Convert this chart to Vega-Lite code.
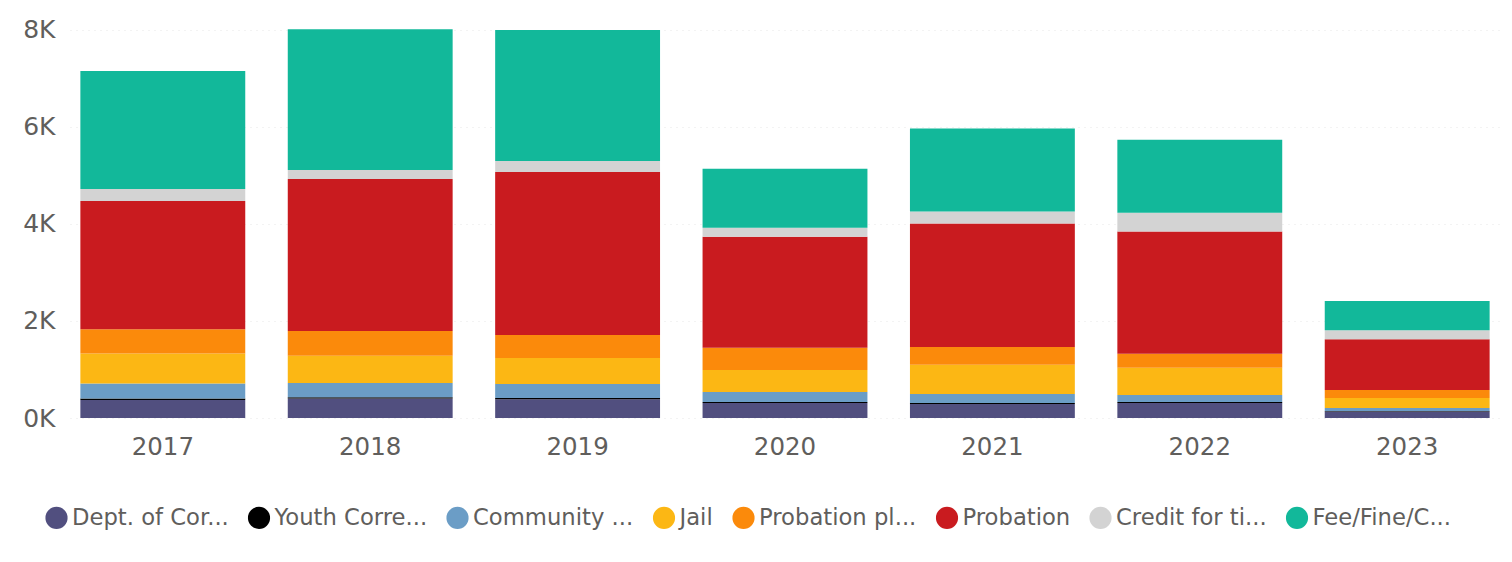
{
  "$schema": "https://vega.github.io/schema/vega-lite/v6.json",
  "width": 1430,
  "height": 398,
  "autosize": "none",
  "padding": {"left": 70, "top": 20, "right": 12, "bottom": 144},
  "background": "white",
  "config": {
    "view": {"stroke": null},
    "font": "DejaVu Sans"
  },
  "data": {
    "values": [
      {"year": "2017", "type": "Dept. of Cor...", "value": 370},
      {"year": "2017", "type": "Youth Corre...", "value": 30},
      {"year": "2017", "type": "Community ...", "value": 310},
      {"year": "2017", "type": "Jail", "value": 620},
      {"year": "2017", "type": "Probation pl...", "value": 500},
      {"year": "2017", "type": "Probation", "value": 2640},
      {"year": "2017", "type": "Credit for ti...", "value": 250},
      {"year": "2017", "type": "Fee/Fine/C...", "value": 2430},
      {"year": "2018", "type": "Dept. of Cor...", "value": 400},
      {"year": "2018", "type": "Youth Corre...", "value": 30},
      {"year": "2018", "type": "Community ...", "value": 290},
      {"year": "2018", "type": "Jail", "value": 560},
      {"year": "2018", "type": "Probation pl...", "value": 515},
      {"year": "2018", "type": "Probation", "value": 3130},
      {"year": "2018", "type": "Credit for ti...", "value": 185},
      {"year": "2018", "type": "Fee/Fine/C...", "value": 2900},
      {"year": "2019", "type": "Dept. of Cor...", "value": 385},
      {"year": "2019", "type": "Youth Corre...", "value": 25},
      {"year": "2019", "type": "Community ...", "value": 290},
      {"year": "2019", "type": "Jail", "value": 535},
      {"year": "2019", "type": "Probation pl...", "value": 475},
      {"year": "2019", "type": "Probation", "value": 3360},
      {"year": "2019", "type": "Credit for ti...", "value": 225},
      {"year": "2019", "type": "Fee/Fine/C...", "value": 2700},
      {"year": "2020", "type": "Dept. of Cor...", "value": 310},
      {"year": "2020", "type": "Youth Corre...", "value": 20},
      {"year": "2020", "type": "Community ...", "value": 205},
      {"year": "2020", "type": "Jail", "value": 455},
      {"year": "2020", "type": "Probation pl...", "value": 455},
      {"year": "2020", "type": "Probation", "value": 2290},
      {"year": "2020", "type": "Credit for ti...", "value": 185},
      {"year": "2020", "type": "Fee/Fine/C...", "value": 1215},
      {"year": "2021", "type": "Dept. of Cor...", "value": 290},
      {"year": "2021", "type": "Youth Corre...", "value": 20},
      {"year": "2021", "type": "Community ...", "value": 185},
      {"year": "2021", "type": "Jail", "value": 600},
      {"year": "2021", "type": "Probation pl...", "value": 370},
      {"year": "2021", "type": "Probation", "value": 2540},
      {"year": "2021", "type": "Credit for ti...", "value": 250},
      {"year": "2021", "type": "Fee/Fine/C...", "value": 1710},
      {"year": "2022", "type": "Dept. of Cor...", "value": 310},
      {"year": "2022", "type": "Youth Corre...", "value": 20},
      {"year": "2022", "type": "Community ...", "value": 145},
      {"year": "2022", "type": "Jail", "value": 560},
      {"year": "2022", "type": "Probation pl...", "value": 290},
      {"year": "2022", "type": "Probation", "value": 2515},
      {"year": "2022", "type": "Credit for ti...", "value": 390},
      {"year": "2022", "type": "Fee/Fine/C...", "value": 1505},
      {"year": "2023", "type": "Dept. of Cor...", "value": 135},
      {"year": "2023", "type": "Youth Corre...", "value": 10},
      {"year": "2023", "type": "Community ...", "value": 60},
      {"year": "2023", "type": "Jail", "value": 205},
      {"year": "2023", "type": "Probation pl...", "value": 165},
      {"year": "2023", "type": "Probation", "value": 1050},
      {"year": "2023", "type": "Credit for ti...", "value": 185},
      {"year": "2023", "type": "Fee/Fine/C...", "value": 600}
    ]
  },
  "transform": [
    {"calculate": "indexof(['Dept. of Cor...', 'Youth Corre...', 'Community ...', 'Jail', 'Probation pl...', 'Probation', 'Credit for ti...', 'Fee/Fine/C...'], datum.type)", "as": "stackOrder"}
  ],
  "mark": {"type": "bar"},
  "encoding": {
    "x": {
      "field": "year",
      "type": "ordinal",
      "scale": {"paddingInner": 0.205, "paddingOuter": 0.05},
      "axis": {
        "title": null,
        "labelAngle": 0,
        "domain": false,
        "ticks": false,
        "labelFontSize": 24.5,
        "labelColor": "#605E5C",
        "labelPadding": 17
      }
    },
    "y": {
      "field": "value",
      "type": "quantitative",
      "stack": "zero",
      "scale": {"domain": [0, 8200], "nice": false},
      "axis": {
        "title": null,
        "values": [0, 2000, 4000, 6000, 8000],
        "labelExpr": "(datum.value / 1000) + 'K'",
        "domain": false,
        "ticks": false,
        "labelFontSize": 25,
        "labelColor": "#605E5C",
        "labelPadding": 15,
        "grid": true,
        "gridColor": "#E6E6E6",
        "gridDash": [1, 5],
        "gridWidth": 1
      }
    },
    "order": {"field": "stackOrder", "type": "quantitative", "sort": "ascending"},
    "color": {
      "field": "type",
      "type": "nominal",
      "sort": ["Dept. of Cor...", "Youth Corre...", "Community ...", "Jail", "Probation pl...", "Probation", "Credit for ti...", "Fee/Fine/C..."],
      "scale": {
        "domain": ["Dept. of Cor...", "Youth Corre...", "Community ...", "Jail", "Probation pl...", "Probation", "Credit for ti...", "Fee/Fine/C..."],
        "range": ["#514F7F", "#000000", "#6B9DC6", "#FCB714", "#FB8A0B", "#C91B1F", "#D3D3D3", "#12B89A"]
      },
      "legend": {
        "title": null,
        "orient": "none",
        "legendX": -25,
        "legendY": 486,
        "direction": "horizontal",
        "columns": 8,
        "symbolType": "circle",
        "symbolSize": 490,
        "symbolStrokeWidth": 0,
        "labelFontSize": 22.7,
        "labelColor": "#605E5C",
        "labelLimit": 400,
        "labelOffset": 4,
        "columnPadding": 18.5
      }
    }
  }
}
